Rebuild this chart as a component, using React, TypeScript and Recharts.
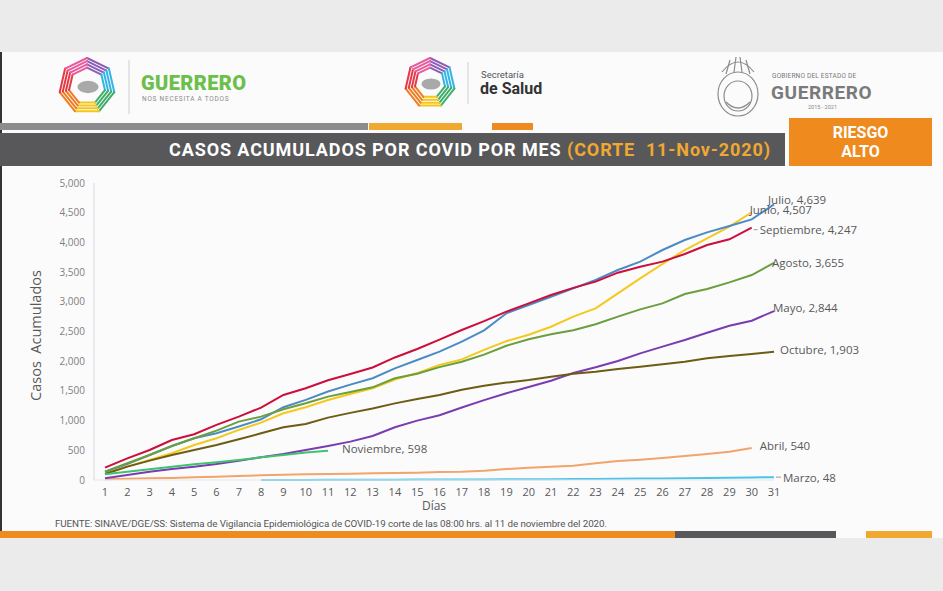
import React from "react";
import { LineChart, Line, XAxis, YAxis, LabelList, Label } from "recharts";

// cumulative cases per day of month
const days = [
  1, 2, 3, 4, 5, 6, 7, 8, 9, 10, 11, 12, 13, 14, 15, 16, 17, 18, 19, 20, 21, 22, 23, 24, 25, 26,
  27, 28, 29, 30, 31,
];
const yTicks = [0, 500, 1000, 1500, 2000, 2500, 3000, 3500, 4000, 4500, 5000];

const marzo = [
  null, null, null, null, null, null, null, 1, 1, 2, 3, 4, 5, 6, 7, 7, 8, 10, 12, 13, 14, 16, 18,
  22, 24, 26, 30, 34, 38, 42, 48,
];
const abril = [
  11, 22, 28, 34, 45, 56, 67, 79, 90, 96, 101, 107, 112, 118, 124, 135, 140, 157, 185, 208, 225,
  241, 281, 320, 342, 370, 404, 438, 477, 540,
];
const mayo = [
  28, 84, 140, 185, 225, 270, 326, 382, 438, 505, 573, 646, 742, 888, 1000, 1090, 1220, 1345, 1460,
  1565, 1670, 1800, 1897, 2003, 2132, 2245, 2357, 2480, 2598, 2682, 2844,
];
const junio = [
  101, 225, 337, 450, 590, 702, 843, 966, 1124, 1225, 1348, 1449, 1545, 1690, 1800, 1937, 2030,
  2190, 2337, 2446, 2580, 2750, 2890, 3143, 3395, 3636, 3872, 4069, 4265, 4507,
];
const julio = [
  140, 270, 421, 573, 702, 786, 900, 1022, 1225, 1348, 1489, 1605, 1713, 1880, 2020, 2160, 2330,
  2520, 2806, 2946, 3086, 3226, 3367, 3535, 3676, 3872, 4040, 4169, 4276, 4388, 4639,
];
const agosto = [
  140, 281, 421, 573, 702, 831, 983, 1067, 1191, 1292, 1404, 1480, 1560, 1712, 1790, 1900, 1990,
  2110, 2260, 2370, 2455, 2520, 2621, 2750, 2873, 2974, 3131, 3215, 3327, 3451, 3655,
];
const septiembre = [
  208, 365, 505, 674, 770, 927, 1067, 1219, 1432, 1545, 1680, 1785, 1895, 2063, 2205, 2364, 2525,
  2674, 2834, 2974, 3114, 3235, 3339, 3490, 3591, 3676, 3805, 3956, 4052, 4247,
];
const octubre = [
  101, 225, 326, 421, 505, 590, 685, 786, 888, 944, 1050, 1130, 1205, 1290, 1365, 1430, 1520, 1585,
  1640, 1683, 1740, 1790, 1823, 1868, 1908, 1947, 1992, 2048, 2088, 2121, 2160,
];
const noviembre = [95, 140, 180, 225, 264, 298, 337, 382, 421, 461, 494];

// end-of-line labels as printed on the slide
const monthNames = [
  "Marzo", "Abril", "Mayo", "Junio", "Julio", "Agosto", "Septiembre", "Octubre", "Noviembre",
];
const labelValues = [48, 540, 2844, 4507, 4639, 3655, 4247, 1903, 598];
const seriesValues = [marzo, abril, mayo, junio, julio, agosto, septiembre, octubre, noviembre];

const COLORS = [
  "#4cc3ea", "#f2a46a", "#7a3cb0", "#f4c81c", "#4b8bc6", "#6b9e3c", "#cc0e3d", "#6e5c14", "#3ec46d",
];
// label nudge [dx, dy, leader] relative to the last point
const NUDGE: [number, number, boolean][] = [
  [9, 0, true],
  [8, -2, false],
  [-1, -4, false],
  [-2, -3, false],
  [-6, -5, false],
  [-2, 0, false],
  [8, 2, true],
  [6, -2, false],
  [14, -2, false],
];

const ORANGE = "#ee8a1e";
const AMBER = "#f0a830";
const DARK = "#58585a";
const TXT = "#595959";
const FONT = "'Open Sans', 'DejaVu Sans', sans-serif";
const ROB = "Roboto, sans-serif";

const keys = monthNames.map((m) => m.toLowerCase());
const rows = days.map((d, i) => {
  const r: Record<string, number | null> = { day: d };
  keys.forEach((k, s) => {
    r[k] = seriesValues[s][i] ?? null;
  });
  return r;
});

const fmt = (v: number) => v.toLocaleString("en-US");

function endLabel(s: number) {
  const last = seriesValues[s].length - 1;
  return (props: any) => {
    if (props.index !== last) return null;
    const x = props.x ?? props.viewBox?.x;
    const y = props.y ?? props.viewBox?.y;
    if (x == null || y == null) return null;
    const [dx, dy, leader] = NUDGE[s];
    return (
      <g>
        {leader && (
          <line x1={x + 2} y1={y + dy} x2={x + dx - 2} y2={y + dy} stroke="#9a9a9a" strokeWidth={1} />
        )}
        <text
          x={x + dx}
          y={y + dy}
          dominantBaseline="central"
          fontSize={11.5}
          fontFamily={FONT}
          fill={TXT}
        >
          {`${monthNames[s]}, ${fmt(labelValues[s])}`}
        </text>
      </g>
    );
  };
}

function Heptagon({ cx, cy, r }: { cx: number; cy: number; r: number }) {
  const cols = ["#8e5bb5", "#33b5e5", "#3fae6a", "#f5c518", "#ef7d22", "#e63946", "#e85a9b"];
  const pt = (i: number, rr: number) => {
    const a = -Math.PI / 2 + (i * 2 * Math.PI) / 7;
    return [cx + rr * Math.cos(a), cy + rr * Math.sin(a)];
  };
  const segs = [];
  for (let i = 0; i < 7; i++) {
    for (let k = 0; k < 4; k++) {
      const rr = r - k * 3.2;
      const [x1, y1] = pt(i, rr);
      const [x2, y2] = pt(i + 1, rr);
      segs.push(
        <line key={`${i}-${k}`} x1={x1} y1={y1} x2={x2} y2={y2} stroke={cols[i]} strokeWidth={2} strokeLinecap="round" />
      );
    }
  }
  return (
    <g>
      {segs}
      <ellipse cx={cx + 1} cy={cy + 1} rx={r * 0.38} ry={r * 0.22} fill="#a9a9a9" />
    </g>
  );
}

const abs = (left: number, top: number, extra: React.CSSProperties): React.CSSProperties => ({
  position: "absolute",
  left,
  top,
  lineHeight: 1,
  whiteSpace: "nowrap",
  fontFamily: ROB,
  ...extra,
});

function Header() {
  return (
    <div style={{ position: "absolute", left: 0, top: 52, width: 943, height: 118 }}>
      <svg width={943} height={70} style={{ position: "absolute", left: 0, top: 0 }}>
        <Heptagon cx={87} cy={34} r={28} />
        <line x1={129} y1={8} x2={129} y2={62} stroke="#d0d0d0" strokeWidth={1} />
        <Heptagon cx={430} cy={31} r={25} />
        <line x1={468} y1={10} x2={468} y2={52} stroke="#d0d0d0" strokeWidth={1} />
        <g fill="none" stroke="#8c8c8c" strokeWidth={1.2}>
          <ellipse cx={738} cy={42} rx={20} ry={22} />
          <ellipse cx={738} cy={44} rx={14} ry={15} />
          <path d="M722 20 Q738 0 754 20" />
          <path d="M726 22 L730 8 M734 20 L736 5 M742 20 L740 5 M750 22 L746 8" />
          <path d="M726 50 Q738 62 750 50" />
        </g>
      </svg>
      <div style={abs(141, 21, { fontWeight: 900, fontSize: 20, color: "#6cbf4a", letterSpacing: 0.4 })}>
        GUERRERO
      </div>
      <div style={abs(142, 44, { fontSize: 6.5, color: "#8a8a8a", letterSpacing: 0.75 })}>
        NOS NECESITA A TODOS
      </div>
      <div style={abs(481, 18, { fontSize: 9.5, color: "#555" })}>Secretaría</div>
      <div style={abs(480, 29, { fontWeight: 700, fontSize: 16, color: "#333" })}>de Salud</div>
      <div style={abs(772, 21, { fontSize: 6.5, color: "#777", letterSpacing: 0.2 })}>
        GOBIERNO DEL ESTADO DE
      </div>
      <div style={abs(771, 31, { fontWeight: 700, fontSize: 19, color: "#7a7a7a", letterSpacing: 0.6 })}>
        GUERRERO
      </div>
      <div style={abs(808, 53, { fontSize: 5.5, color: "#888" })}>2015 - 2021</div>
      {/* divider bars */}
      <div style={{ position: "absolute", left: 0, top: 71, width: 368, height: 7, background: "#8c8c8e" }} />
      <div style={{ position: "absolute", left: 369, top: 71, width: 93, height: 7, background: AMBER }} />
      <div style={{ position: "absolute", left: 492, top: 71, width: 41, height: 7, background: ORANGE }} />
      {/* title bar */}
      <div
        style={{
          position: "absolute", left: 0, top: 81, width: 785, height: 33, background: DARK,
          display: "flex", alignItems: "center", justifyContent: "flex-end", paddingRight: 14, boxSizing: "border-box",
          fontFamily: ROB, fontWeight: 700, fontSize: 18, letterSpacing: 0.9, color: "#fff", whiteSpace: "nowrap",
        }}
      >
        <span>CASOS ACUMULADOS POR COVID POR MES&nbsp;</span>
        <span style={{ color: AMBER }}>(CORTE&nbsp; 11-Nov-2020)</span>
      </div>
      <div
        style={{
          position: "absolute", left: 789, top: 66, width: 143, height: 48, background: ORANGE,
          display: "flex", flexDirection: "column", alignItems: "center", justifyContent: "center",
          fontFamily: ROB, fontWeight: 700, fontSize: 16, lineHeight: "19px", color: "#fff",
        }}
      >
        <span>RIESGO</span>
        <span>ALTO</span>
      </div>
    </div>
  );
}

export default function App() {
  return (
    <div style={{ position: "absolute", left: 0, top: 0, width: 943, height: 591, background: "#ebebeb", overflow: "hidden" }}>
      <div style={{ position: "absolute", left: 0, top: 52, width: 943, height: 486, background: "#fbfbfc" }} />
      <div style={{ position: "absolute", left: 0, top: 52, width: 2, height: 486, background: "#333" }} />
      <Header />
      <div style={{ position: "absolute", left: 0, top: 170 }}>
        <LineChart width={943} height={350} data={rows} margin={{ top: 13, right: 169, bottom: 0, left: 20 }}>
          <XAxis
            dataKey="day"
            padding={{ left: 11, right: 0 }}
            interval={0}
            tickLine={false}
            tickSize={6}
            tickMargin={2}
            height={40}
            axisLine={{ stroke: "#e6e6e6" }}
            tick={{ fill: TXT, fontSize: 11, fontFamily: FONT }}
          >
            <Label value="Días" position="insideBottom" offset={10} fill={TXT} fontSize={12} fontFamily={FONT} />
          </XAxis>
          <YAxis
            domain={[0, 5000]}
            ticks={yTicks}
            width={74}
            tickLine={false}
            tickSize={6}
            tickMargin={3}
            axisLine={{ stroke: "#d9d9d9" }}
            tickFormatter={fmt}
            tick={{ fill: "#7f7f7f", fontSize: 10, fontFamily: FONT }}
          >
            <Label
              content={(p: any) => {
                const vb = p.viewBox || {};
                const cy = (vb.y ?? 13) + (vb.height ?? 297) / 2 + 4;
                return (
                  <text
                    x={35}
                    y={cy}
                    transform={`rotate(-90, 35, ${cy})`}
                    textAnchor="middle"
                    dominantBaseline="central"
                    fontSize={14.5}
                    fontFamily={FONT}
                    fill={TXT}
                  >
                    {"Casos\u00A0\u00A0Acumulados"}
                  </text>
                );
              }}
            />
          </YAxis>
          {keys.map((k, s) => (
            <Line
              key={k}
              dataKey={k}
              type="linear"
              stroke={COLORS[s]}
              strokeWidth={2}
              dot={false}
              isAnimationActive={false}
            >
              <LabelList dataKey={k} content={endLabel(s)} />
            </Line>
          ))}
        </LineChart>
      </div>
      <div style={abs(55, 519, { fontSize: 9.8, color: "#555", letterSpacing: -0.1 })}>
        FUENTE: SINAVE/DGE/SS: Sistema de Vigilancia Epidemiológica de COVID-19 corte de las 08:00 hrs. al 11 de noviembre del 2020.
      </div>
      <div style={{ position: "absolute", left: 0, top: 531, width: 675, height: 7, background: ORANGE }} />
      <div style={{ position: "absolute", left: 675, top: 531, width: 161, height: 7, background: DARK }} />
      <div style={{ position: "absolute", left: 866, top: 531, width: 66, height: 7, background: AMBER }} />
    </div>
  );
}
